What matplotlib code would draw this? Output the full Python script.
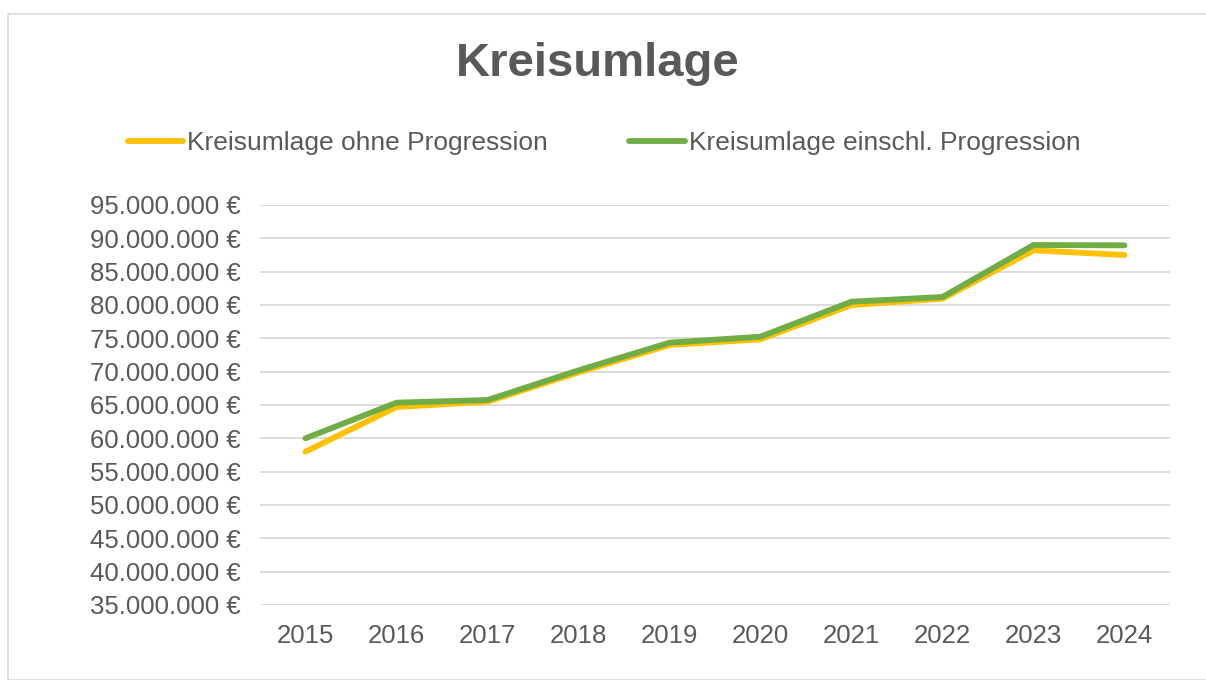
import matplotlib.pyplot as plt
from matplotlib.patches import Rectangle
from matplotlib.ticker import FuncFormatter

plt.rcParams['font.family'] = ['Liberation Sans', 'DejaVu Sans']

years = ['2015', '2016', '2017', '2018', '2019', '2020', '2021', '2022', '2023', '2024']
ohne_progression = [58.0, 64.7, 65.5, 69.9, 74.0, 74.85, 80.0, 80.95, 88.2, 87.5]      # Mio. €
einschl_progression = [60.0, 65.35, 65.75, 70.2, 74.35, 75.25, 80.5, 81.2, 89.0, 88.95]  # Mio. €
label_ohne = 'Kreisumlage ohne Progression'
label_einschl = 'Kreisumlage einschl. Progression'

grey = '#595959'

W, H = 1206, 680
fig = plt.figure(figsize=(W / 100, H / 100), dpi=100)

# chart border
fig.patches.append(Rectangle((8 / W, 0), 1.2, (H - 14) / H, transform=fig.transFigure,
                             fill=False, edgecolor='#D9D9D9', linewidth=1.2))

ax = fig.add_axes([260 / W, 1 - 605 / H, 910 / W, 400 / H])

x = range(len(years))
ax.plot(x, [v * 1e6 for v in ohne_progression], color='#FFC000', linewidth=4.2,
        solid_capstyle='round', solid_joinstyle='round', label=label_ohne, zorder=3)
ax.plot(x, [v * 1e6 for v in einschl_progression], color='#70AD47', linewidth=4.2,
        solid_capstyle='round', solid_joinstyle='round', label=label_einschl, zorder=4)

ax.set_xlim(-0.5, len(years) - 0.5)
ax.set_ylim(35e6, 95e6)
ax.set_yticks([v * 1e6 for v in range(35, 96, 5)])
ax.yaxis.set_major_formatter(FuncFormatter(lambda v, p: f'{v:,.0f} €'.replace(',', '.')))
ax.set_xticks(list(x))
ax.set_xticklabels(years)

ax.grid(axis='y', color='#D9D9D9', linewidth=1.3)
ax.set_axisbelow(True)
for s in ax.spines.values():
    s.set_visible(False)
ax.tick_params(length=0, labelsize=18.5, labelcolor=grey)
ax.tick_params(axis='y', pad=14)
ax.tick_params(axis='x', pad=14)

fig.text(598 / W, 1 - 64 / H, 'Kreisumlage', ha='center', va='center',
         fontsize=34, fontweight='bold', color=grey)

leg = fig.legend(loc='center', bbox_to_anchor=(604 / W, 1 - 143 / H), ncol=2, frameon=False,
                 fontsize=19, handlelength=2.1, handletextpad=0.15, columnspacing=3.1)
for t in leg.get_texts():
    t.set_color(grey)
for h in leg.get_lines():
    h.set_linewidth(4.2)

fig.savefig('out.png', dpi=100)
